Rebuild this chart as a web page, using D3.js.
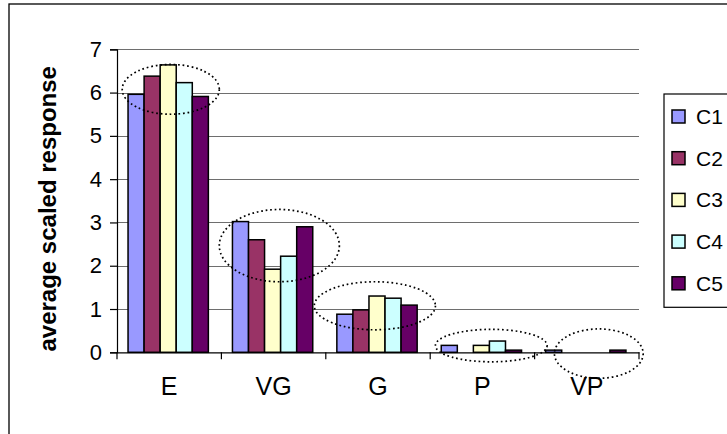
<!DOCTYPE html>
<html>
<head>
<meta charset="utf-8">
<script src="https://cdn.jsdelivr.net/npm/d3@7"></script>
<style>
  html, body { margin: 0; padding: 0; background: #fff; }
  svg { display: block; font-family: "Liberation Sans", Arial, sans-serif; }
</style>
</head>
<body>
<svg id="chart" width="727" height="434"></svg>
<script>
// Rating categories along the x axis
const categories = ["E", "VG", "G", "P", "VP"];
// Series (one bar per series within each category)
const seriesNames = ["C1", "C2", "C3", "C4", "C5"];
const seriesColors = ["#9999FF", "#993366", "#FFFFCC", "#CCFFFF", "#660066"];
// Average scaled response, one array per series, ordered like categories
const C1 = [5.96, 3.02, 0.88, 0.16, 0.05];
const C2 = [6.38, 2.60, 0.98, 0.00, 0.00];
const C3 = [6.64, 1.92, 1.30, 0.16, 0.00];
const C4 = [6.23, 2.22, 1.25, 0.26, 0.00];
const C5 = [5.91, 2.90, 1.09, 0.05, 0.05];
const seriesValues = [C1, C2, C3, C4, C5];
// y axis ticks
const yTicks = [0, 1, 2, 3, 4, 5, 6, 7];
// Dotted highlight ellipses: [category position start, end, value top, value bottom]
const highlightX = [[0.05, 0.98], [0.98, 2.13], [1.89, 3.05], [3.05, 4.12], [4.19, 5.04]];
const highlightY = [[6.65, 5.50], [3.30, 1.63], [1.63, 0.52], [0.53, -0.22], [0.54, -0.60]];

const svg = d3.select("#chart");

// Outer chart frame
svg.append("rect")
  .attr("x", 9).attr("y", 4).attr("width", 740).attr("height", 450)
  .attr("fill", "none").attr("stroke", "#000").attr("stroke-width", 1.3);

const plot = { left: 117, right: 639, top: 49.3, bottom: 352.3 };

const x0 = d3.scaleBand().domain(categories).range([plot.left, plot.right]).paddingInner(0).paddingOuter(0);
const bw = x0.bandwidth();
const gap = bw * 1.5 / 6.5 / 2;
const x1 = d3.scaleBand().domain(seriesNames).range([gap - 1, bw - gap - 1]).padding(0);
const y = d3.scaleLinear().domain([0, 7]).range([plot.bottom, plot.top]);
const xPos = d3.scaleLinear().domain([0, categories.length]).range([plot.left, plot.right]);

// Horizontal gridlines
svg.append("g")
  .selectAll("line")
  .data(yTicks.filter(d => d > 0))
  .join("line")
  .attr("x1", plot.left).attr("x2", plot.right)
  .attr("y1", d => Math.round(y(d)) + 0.5).attr("y2", d => Math.round(y(d)) + 0.5)
  .attr("stroke", "#6e6e6e").attr("stroke-width", 1.2);

// Bars
const rows = [];
categories.forEach((c, i) => {
  seriesNames.forEach((s, j) => {
    rows.push({ cat: c, series: s, value: seriesValues[j][i], color: seriesColors[j] });
  });
});
svg.append("g")
  .selectAll("rect")
  .data(rows.filter(d => d.value > 0))
  .join("rect")
  .attr("x", d => x0(d.cat) + x1(d.series))
  .attr("y", d => y(d.value))
  .attr("width", x1.bandwidth())
  .attr("height", d => y(0) - y(d.value))
  .attr("fill", d => d.color)
  .attr("stroke", "#000").attr("stroke-width", 1.5);

// Y axis
const yAxis = d3.axisLeft(y).tickValues(yTicks).tickSize(7).tickPadding(8).tickFormat(d3.format("d"));
const gy = svg.append("g").attr("transform", `translate(${plot.left},0)`).call(yAxis);
gy.select(".domain").attr("stroke", "#000").attr("stroke-width", 1.2);
gy.selectAll(".tick line").attr("stroke", "#000").attr("stroke-width", 1.2);
gy.selectAll(".tick text").attr("font-size", 22).attr("fill", "#000")
  .attr("font-family", "'Liberation Sans', Arial, sans-serif");

// X axis: line at zero plus tick marks between categories
const xAxis = d3.axisBottom(x0).tickSize(0).tickPadding(25);
const gx = svg.append("g").attr("transform", `translate(0,${plot.bottom})`).call(xAxis);
gx.select(".domain").attr("stroke", "#000").attr("stroke-width", 1.2);
gx.selectAll(".tick text").attr("font-size", 25).attr("fill", "#000")
  .attr("font-family", "'Liberation Sans', Arial, sans-serif");
gx.selectAll(".sep")
  .data(d3.range(categories.length + 1))
  .join("line")
  .attr("class", "sep")
  .attr("x1", d => xPos(d)).attr("x2", d => xPos(d))
  .attr("y1", 0).attr("y2", 7)
  .attr("stroke", "#000").attr("stroke-width", 1.2);

// Dotted ellipses highlighting each group
svg.append("g")
  .selectAll("ellipse")
  .data(categories.map((c, i) => ({ xs: highlightX[i], ys: highlightY[i] })))
  .join("ellipse")
  .attr("cx", d => (xPos(d.xs[0]) + xPos(d.xs[1])) / 2)
  .attr("cy", d => (y(d.ys[0]) + y(d.ys[1])) / 2)
  .attr("rx", d => (xPos(d.xs[1]) - xPos(d.xs[0])) / 2)
  .attr("ry", d => (y(d.ys[1]) - y(d.ys[0])) / 2)
  .attr("fill", "none").attr("stroke", "#000").attr("stroke-width", 1.7)
  .attr("stroke-dasharray", "1.7 2.8").attr("stroke-linecap", "butt");

// Y axis title
svg.append("text")
  .attr("transform", `translate(56,${(plot.top + plot.bottom) / 2 + 8}) rotate(-90)`)
  .attr("text-anchor", "middle")
  .attr("font-size", 24).attr("font-weight", "bold")
  .text("average scaled response");

// Legend
const legend = svg.append("g").attr("transform", "translate(664,94)");
legend.append("rect")
  .attr("x", 0).attr("y", 0).attr("width", 80).attr("height", 213.3)
  .attr("fill", "#fff").attr("stroke", "#000").attr("stroke-width", 1.2);
const li = legend.selectAll(".item")
  .data(seriesNames)
  .join("g")
  .attr("class", "item")
  .attr("transform", (d, i) => `translate(0,${22.5 + i * 41.7})`);
li.append("rect")
  .attr("x", 8).attr("y", -6.5).attr("width", 13).attr("height", 13)
  .attr("fill", (d, i) => seriesColors[i])
  .attr("stroke", "#000").attr("stroke-width", 1.5);
li.append("text")
  .attr("x", 32).attr("y", 7.5)
  .attr("font-size", 21)
  .text(d => d);
</script>
</body>
</html>
